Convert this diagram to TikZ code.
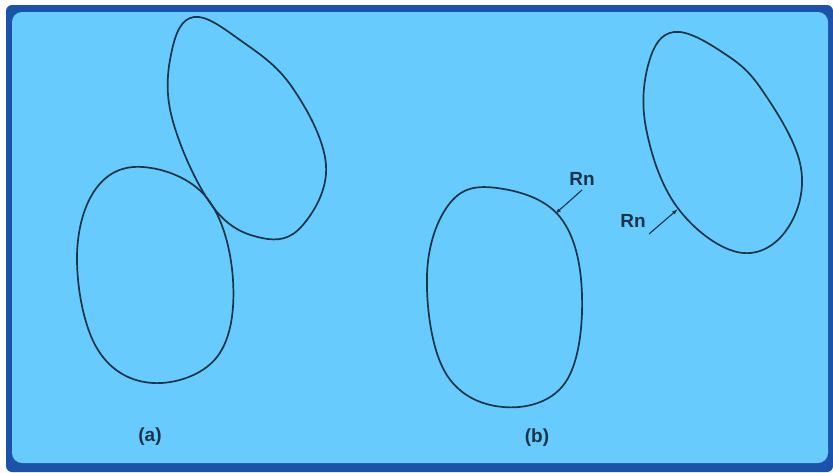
\documentclass[tikz,border=0pt]{standalone}
\usepackage{fontspec}
\setmainfont{Liberation Sans}
\usepackage{xcolor}
\usepackage{tikz}
\usetikzlibrary{arrows.meta, positioning}
\definecolor{framecol}{RGB}{28,82,170}
\definecolor{bgcol}{RGB}{104,203,253}
\definecolor{linecol}{RGB}{28,52,72}

\begin{document}
\begin{tikzpicture}[x=1pt, y=-1pt,
  blob/.style={linecol, line width=1.7pt},
  lbl/.style={font=\fontsize{19}{21}\selectfont\bfseries, text=linecol, inner sep=0pt},
  rnarrow/.style={linecol, line width=1.1pt, -{Latex[length=6pt, width=4pt]}}]
\useasboundingbox (0,0) rectangle (833,472);
\fill[framecol, rounded corners=6pt] (6,5) rectangle (833,472);
\fill[bgcol, rounded corners=10pt] (12,12) rectangle (828,463);
% (a) two grains in contact
\draw[blob] plot[smooth cycle, tension=0.65] coordinates {(143,167) (207,198) (233,280) (217,357) (153,383) (98,350) (77,262) (95,190)};
\draw[blob] plot[smooth cycle, tension=0.65] coordinates {(194,17) (240,40) (292,87) (326,165) (302,226) (262,238) (213,207) (172,118) (172,50)};
% (b) two grains apart
\draw[blob] plot[smooth cycle, tension=0.65] coordinates {(497,188) (560,217) (582,295) (565,383) (503,407) (445,372) (427,275) (450,203)};
\draw[blob] plot[smooth cycle, tension=0.65] coordinates {(674,32) (722,52) (762,90) (801,168) (785,232) (737,252) (677,207) (646,128) (649,62)};
\node[lbl] (rnA) at (582,179) {Rn};
\node[lbl] (rnB) at (633,221) {Rn};
\coordinate (rnAfrom) at (582,190);
\coordinate (rnAto) at (555,214);
\coordinate (rnBfrom) at (649,234);
\coordinate (rnBto) at (678,209);
\draw[rnarrow] (rnAfrom) -- (rnAto);
\draw[rnarrow] (rnBfrom) -- (rnBto);
\node[lbl] (capA) at (150,437) {(a)};
\node[lbl] (capB) at (537,438) {(b)};
\end{tikzpicture}
\end{document}
